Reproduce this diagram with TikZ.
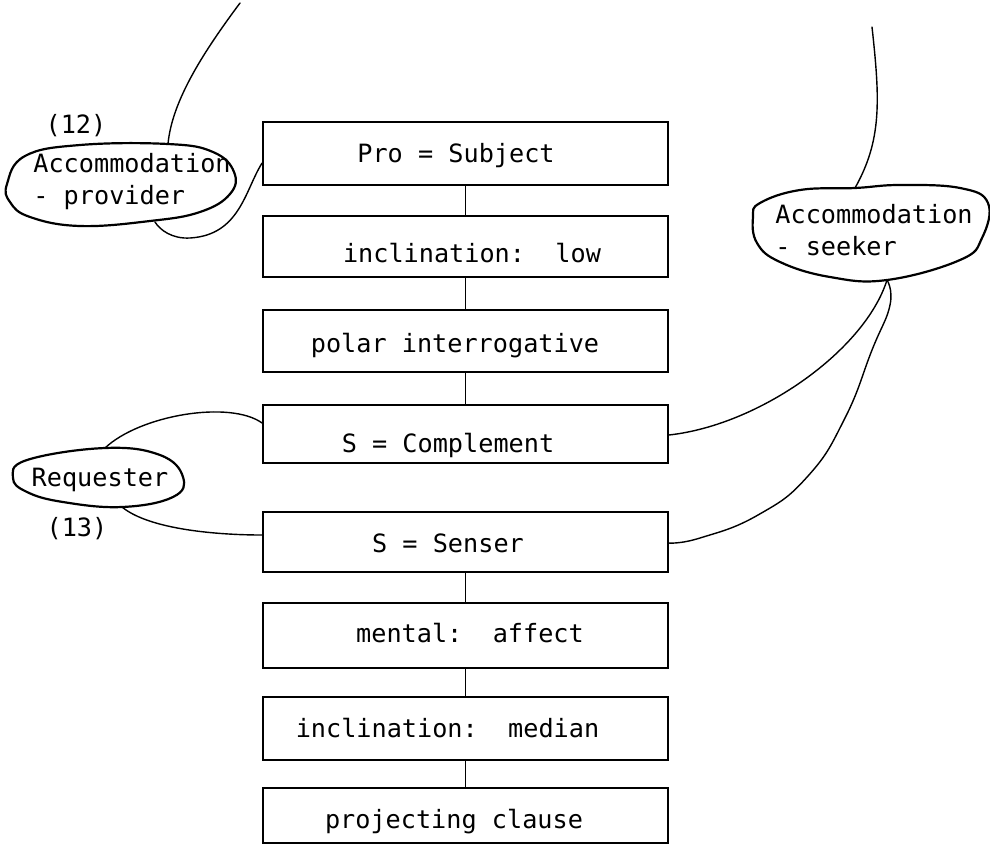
\documentclass[tikz,border=0pt]{standalone}
\usepackage{fontspec}
\setmonofont{DejaVu Sans Mono}
\begin{document}
\begin{tikzpicture}[x=0.5pt,y=-0.5pt,
  box/.style={draw, line width=0.9pt, minimum width=202.5pt, inner sep=0pt},
  lbl/.style={font=\ttfamily\fontsize{12.6}{16}\selectfont, inner sep=0pt, anchor=base},
  blbl/.style={font=\ttfamily\fontsize{12.6}{16}\selectfont, inner sep=0pt, align=left, anchor=north west},
  conn/.style={line width=0.7pt, line cap=round},
  blob/.style={line width=1.1pt, line join=round}]
\useasboundingbox (0,0) rectangle (990,852);

% boxes
\node[box, minimum height=31.5pt] (b1) at (465.5,153.5) {};
\node[box, minimum height=30.5pt] (b2) at (465.5,246.5) {};
\node[box, minimum height=31pt]   (b3) at (465.5,341) {};
\node[box, minimum height=29pt]   (b4) at (465.5,434) {};
\node[box, minimum height=30pt]   (b5) at (465.5,542) {};
\node[box, minimum height=32.5pt] (b6) at (465.5,635.5) {};
\node[box, minimum height=31.5pt] (b7) at (465.5,728.5) {};
\node[box, minimum height=27.5pt] (b8) at (465.5,815.5) {};

\node[lbl] (t1) at (456,162) {Pro = Subject};
\node[lbl] (t2) at (472,262) {inclination:~~low};
\node[lbl] (t3) at (455,352) {polar interrogative};
\node[lbl] (t4) at (448,452) {S = Complement};
\node[lbl] (t5) at (448,552) {S = Senser};
\node[lbl] (t6) at (470,642) {mental:~~affect};
\node[lbl] (t7) at (447.5,737) {inclination:~~median};
\node[lbl] (t8) at (454,828) {projecting clause};

\foreach \a/\b in {b1/b2,b2/b3,b3/b4,b5/b6,b6/b7,b7/b8}
  \draw[conn] (\a.south) -- (\b.north);

% blob: Accommodation - provider
\draw[blob] plot[smooth cycle, tension=0.7] coordinates {
  (7,184) (25,156) (80,145) (168,144) (213,152) (234,172) (230,194)
  (200,212) (150,221) (80,226) (30,217) (10,202)};
\node[blbl] (prov) at (33,153) {Accommodation\\- provider};
\node[lbl] (n12) at (76,133) {(12)};

% blob: Accommodation - seeker
\draw[blob] plot[smooth cycle, tension=0.7] coordinates {
  (760,203) (800,190) (855,188) (900,185) (960,188) (988,203) (982,238)
  (960,260) (887,280) (830,277) (780,262) (757,243) (753,217)};
\node[blbl] (seek) at (775,204) {Accommodation\\- seeker};

% blob: Requester
\draw[blob] plot[smooth cycle, tension=0.7] coordinates {
  (13,478) (27,460) (105,448) (160,455) (183,477) (173,497) (122,507)
  (63,502) (27,492)};
\node[lbl] (req) at (100,486) {Requester};
\node[lbl] (n13) at (77,536) {(13)};

% free ends and attachment points
\coordinate (topL) at (240,3);
\coordinate (provTop) at (168,144);
\coordinate (provBot) at (155,222);
\coordinate (topR) at (872,27);
\coordinate (seekTop) at (855,188);
\coordinate (seekBot) at (887,280);
\coordinate (reqTop) at (105,448);
\coordinate (reqBot) at (122,507);
\coordinate (b1L) at (b1.west |- 0,163);
\coordinate (b4L) at (b4.west |- 0,423);
\coordinate (b4R) at (b4.east |- 0,435);
\coordinate (b5L) at (b5.west |- 0,535);
\coordinate (b5R) at (b5.east |- 0,543);

\draw[conn] (topL) .. controls (205,50) and (172,100) .. (provTop);
\draw[conn] (b1L) .. controls (245,190) and (240,235) .. (190,238)
                  .. controls (172,239) and (160,230) .. (provBot);
\draw[conn] (topR) .. controls (880,100) and (882,140) .. (seekTop);
\draw[conn] (seekBot) .. controls (865,350) and (760,425) .. (b4R);
\draw[conn] plot[smooth, tension=0.8] coordinates {
  (seekBot) (890,305) (872,350) (845,418) (808,476) (758,515) (700,538) (b5R)};
\draw[conn] (reqTop) .. controls (140,415) and (230,400) .. (b4L);
\draw[conn] (reqBot) .. controls (150,530) and (220,535) .. (b5L);
\end{tikzpicture}
\end{document}
